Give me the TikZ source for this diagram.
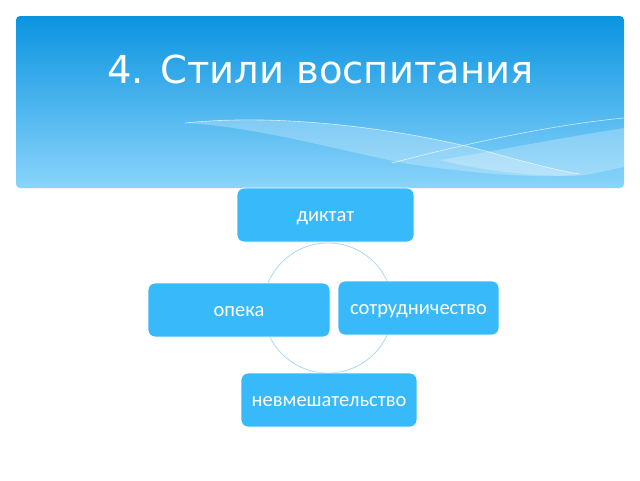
\documentclass[tikz,border=0pt]{standalone}
\usepackage{fontspec}
\setmainfont{DejaVu Sans}
\newfontfamily\boxfont{Carlito}
\definecolor{bannertop}{HTML}{0A94E0}
\definecolor{bannerbot}{HTML}{8AD4FB}
\definecolor{boxblue}{HTML}{38B9F9}
\definecolor{ringblue}{HTML}{A6D8F2}
\begin{document}
\begin{tikzpicture}[x=1pt,y=-1pt,
  stylebox/.style={draw=white, line width=0.8pt, fill=boxblue, rounded corners=7pt,
    minimum height=54pt, inner sep=0pt, text=white, text height=12.5pt, text depth=0pt,
    font=\boxfont\fontsize{20.5}{24}\selectfont},
  wave/.style={fill=white, opacity=0.25},
  waveline/.style={draw=white, opacity=0.7, line width=0.6pt}]
\useasboundingbox (0,0) rectangle (640,480);

% banner
\begin{scope}
\path[rounded corners=4pt, top color=bannertop, bottom color=bannerbot] (16,16) rectangle (624,188);
\clip (16,16) rectangle (624,188);
\fill[wave] (185,123) .. controls (290,112) and (420,132) .. (500,155) .. controls (540,166) and (570,173) .. (580,174)
  .. controls (540,180) and (460,172) .. (403,163) .. controls (330,148) and (250,126) .. (185,123) -- cycle;
\fill[wave] (440,160) .. controls (500,150) and (560,138) .. (624,128) -- (624,167) .. controls (600,172) and (585,176) .. (570,176)
  .. controls (520,176) and (470,168) .. (440,160) -- cycle;
\draw[waveline] (185,123) .. controls (290,112) and (420,132) .. (500,155) .. controls (540,166) and (570,173) .. (580,174);
\draw[waveline] (392,163) .. controls (460,145) and (550,125) .. (624,118);
\end{scope}
\node[text=white, anchor=base west, inner sep=0pt, font=\fontsize{38.5}{44}\selectfont] (title) at (107,83) {4. Стили воспитания};

% ring
\coordinate (mid) at (328,308);
\draw[ringblue, line width=0.8pt] (mid) circle (65);

% boxes
\node[stylebox, minimum width=177pt] (diktat) at (325.5,215) {диктат};
\node[stylebox, minimum width=182pt] (opeka) at (239,310) {опека};
\node[stylebox, minimum width=161pt] (sotr) at (418.5,308) {сотрудничество};
\node[stylebox, minimum width=176pt] (nevm) at (329,400) {невмешательство};

\end{tikzpicture}
\end{document}
